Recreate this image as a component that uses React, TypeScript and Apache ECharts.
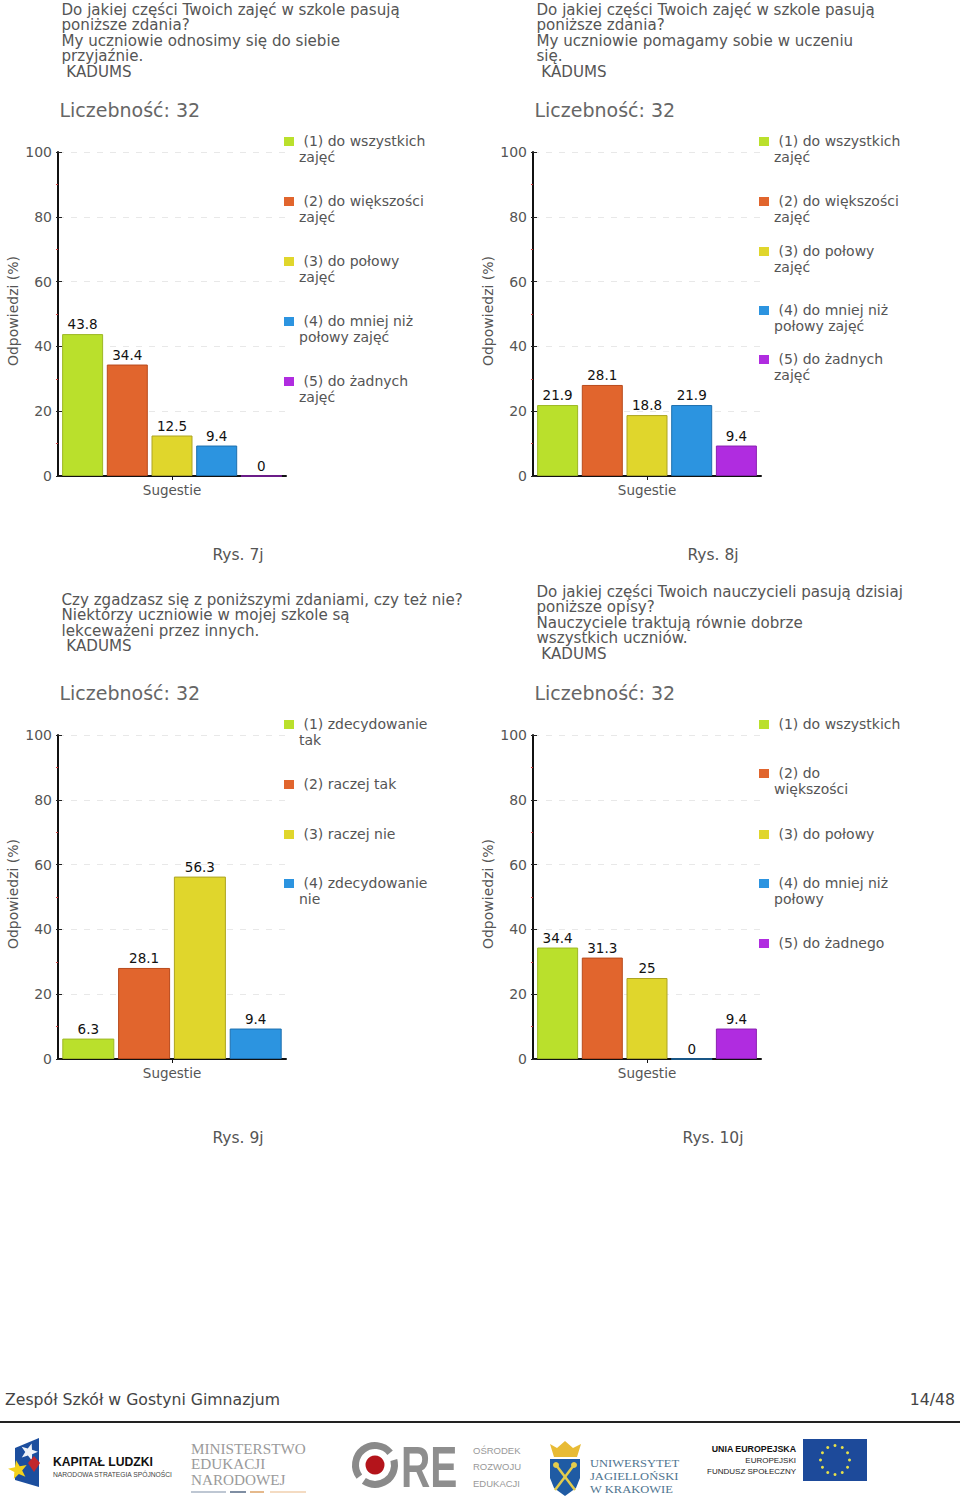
import React, { useEffect, useRef } from "react";
import * as echarts from "echarts";

const FONT = "'DejaVu Sans', Verdana, sans-serif";
const SERIF = "'Liberation Serif', serif";
const ARIAL = "'Liberation Sans', Arial, sans-serif";

const COLORS = ["#bae02c", "#e1652d", "#e0d62c", "#2c94e0", "#b02ce0"];
const BORDERS = ["#9db825", "#b84a1c", "#ada422", "#1d6fae", "#8a20b0"];

const question1 = "Do jakiej części Twoich zajęć w szkole pasują\nponiższe zdania?\nMy uczniowie odnosimy się do siebie\nprzyjaźnie.\n KADUMS";
const question2 = "Do jakiej części Twoich zajęć w szkole pasują\nponiższe zdania?\nMy uczniowie pomagamy sobie w uczeniu\nsię.\n KADUMS";
const question3 = "Czy zgadzasz się z poniższymi zdaniami, czy też nie?\nNiektórzy uczniowie w mojej szkole są\nlekceważeni przez innych.\n KADUMS";
const question4 = "Do jakiej części Twoich nauczycieli pasują dzisiaj\nponiższe opisy?\nNauczyciele traktują równie dobrze\nwszystkich uczniów.\n KADUMS";

const values1 = [43.8, 34.4, 12.5, 9.4, 0];
const values2 = [21.9, 28.1, 18.8, 21.9, 9.4];
const values3 = [6.3, 28.1, 56.3, 9.4];
const values4 = [34.4, 31.3, 25, 0, 9.4];

const legend1 = [" (1) do wszystkich\nzajęć", " (2) do większości\nzajęć", " (3) do połowy\nzajęć", " (4) do mniej niż\npołowy zajęć", " (5) do żadnych\nzajęć"];
const legend2 = legend1;
const legend3 = [" (1) zdecydowanie\ntak", " (2) raczej tak", " (3) raczej nie", " (4) zdecydowanie\nnie"];
const legend4 = [" (1) do wszystkich", " (2) do\nwiększości", " (3) do połowy", " (4) do mniej niż\npołowy", " (5) do żadnego"];

const captions = ["Rys. 7j", "Rys. 8j", "Rys. 9j", "Rys. 10j"];
const count = "Liczebność: 32";
const xCategory = "Sugestie";
const yName = "Odpowiedzi (%)";
const footerLeft = "Zespół Szkół w Gostyni Gimnazjum";
const footerRight = "14/48";

const panels = [
  { q: question1, qy: 2, v: values1, l: legend1, ly: [141, 201, 261, 321, 381], x: 58, y: 152, w: 41, gap: "9%" },
  { q: question2, qy: 2, v: values2, l: legend2, ly: [141, 201, 251, 310, 359], x: 533, y: 152, w: 41, gap: "9%" },
  { q: question3, qy: 592, v: values3, l: legend3, ly: [724, 784, 834, 883], x: 58, y: 735, w: 52, gap: "7.3%" },
  { q: question4, qy: 584, v: values4, l: legend4, ly: [724, 773, 834, 883, 943], x: 533, y: 735, w: 41, gap: "9%" },
];

function txt(x: number, y: number, text: string, fontSize: number, fill = "#555", extra: any = {}, scaleX = 1) {
  return {
    type: "text", x, y, scaleX,
    style: { text, fontSize, fill, fontFamily: FONT, textVerticalAlign: "middle", verticalAlign: "middle", align: "left", ...extra },
  };
}

function star(cx: number, cy: number, R: number, fill: string, rot = 0) {
  const pts: number[][] = [];
  for (let i = 0; i < 10; i++) {
    const r = i % 2 ? R * 0.42 : R;
    const a = -Math.PI / 2 + rot + (i * Math.PI) / 5;
    pts.push([cx + r * Math.cos(a), cy + r * Math.sin(a)]);
  }
  return { type: "polygon", shape: { points: pts }, style: { fill } };
}

function logos(): any[] {
  const g: any[] = [];
  // Kapitał Ludzki
  g.push({ type: "polygon", shape: { points: [[15, 1448], [39, 1438], [39, 1487], [15, 1480]] }, style: { fill: "#1c4e9e" } });
  g.push(star(29, 1452, 9, "#eef2f8", 0.3));
  g.push({ type: "polygon", shape: { points: [[34, 1456], [40, 1463], [34, 1472], [28, 1463]] }, style: { fill: "#c2272d" } });
  g.push(star(18, 1470, 10, "#f3d21c", -0.2));
  g.push(txt(53, 1462, "KAPITAŁ LUDZKI", 12.2, "#111", { fontFamily: ARIAL, fontWeight: "bold" }));
  g.push(txt(53, 1474, "NARODOWA STRATEGIA SPÓJNOŚCI", 6.7, "#444", { fontFamily: ARIAL }));
  // MEN
  g.push(txt(191, 1448, "MINISTERSTWO", 15.2, "#9a9a9a", { fontFamily: SERIF }));
  g.push(txt(191, 1463, "EDUKACJI", 15.2, "#9a9a9a", { fontFamily: SERIF }));
  g.push(txt(191, 1479, "NARODOWEJ", 15.2, "#9a9a9a", { fontFamily: SERIF }));
  g.push({ type: "line", shape: { x1: 191, y1: 1492, x2: 226, y2: 1492 }, style: { stroke: "#a9b4c4", lineWidth: 1.5 } });
  g.push({ type: "line", shape: { x1: 230, y1: 1492, x2: 246, y2: 1492 }, style: { stroke: "#7f8ea3", lineWidth: 2 } });
  g.push({ type: "line", shape: { x1: 250, y1: 1492, x2: 264, y2: 1492 }, style: { stroke: "#e5b98c", lineWidth: 2 } });
  g.push({ type: "line", shape: { x1: 270, y1: 1492, x2: 306, y2: 1492 }, style: { stroke: "#f0cfae", lineWidth: 1.5 } });
  // ORE
  g.push({ type: "arc", shape: { cx: 375, cy: 1465, r: 19.5, startAngle: 2.5, endAngle: 5.6 }, style: { stroke: "#8a8a8a", lineWidth: 7, fill: "none" } });
  g.push({ type: "arc", shape: { cx: 375, cy: 1465, r: 19.5, startAngle: -0.26, endAngle: 2.18 }, style: { stroke: "#8a8a8a", lineWidth: 7, fill: "none" } });
  g.push({ type: "circle", shape: { cx: 375, cy: 1465, r: 9.5 }, style: { fill: "#b4141b" } });
  g.push(txt(401, 1467, "RE", 58, "#8e8e8e", { fontFamily: ARIAL, fontWeight: "bold" }, 0.7));
  g.push(txt(473, 1450, "OŚRODEK", 9.5, "#999", { fontFamily: ARIAL }));
  g.push(txt(473, 1466, "ROZWOJU", 9.5, "#999", { fontFamily: ARIAL }));
  g.push(txt(473, 1483, "EDUKACJI", 9.5, "#999", { fontFamily: ARIAL }));
  // UJ
  g.push({ type: "polygon", shape: { points: [[550, 1444], [557, 1448], [565, 1441], [573, 1448], [581, 1444], [577, 1457], [554, 1457]] }, style: { fill: "#e8bb35" } });
  g.push({ type: "polygon", shape: { points: [[550, 1459], [580, 1459], [580, 1478], [576, 1488], [565, 1496], [554, 1488], [550, 1478]] }, style: { fill: "#1f5ba4" } });
  g.push({ type: "line", shape: { x1: 556, y1: 1465, x2: 575, y2: 1490 }, style: { stroke: "#e3cc4c", lineWidth: 2.5 } });
  g.push({ type: "line", shape: { x1: 574, y1: 1465, x2: 555, y2: 1490 }, style: { stroke: "#e3cc4c", lineWidth: 2.5 } });
  g.push({ type: "circle", shape: { cx: 556, cy: 1465, r: 3 }, style: { fill: "#e3cc4c" } });
  g.push({ type: "circle", shape: { cx: 574, cy: 1465, r: 3 }, style: { fill: "#e3cc4c" } });
  g.push(txt(590, 1463, "UNIWERSYTET", 11, "#4f7590", { fontFamily: SERIF }, 1.14));
  g.push(txt(590, 1476, "JAGIELLOŃSKI", 11, "#4f7590", { fontFamily: SERIF }, 1.14));
  g.push(txt(590, 1489, "W KRAKOWIE", 11, "#4f7590", { fontFamily: SERIF }, 1.14));
  // EU
  g.push(txt(796, 1449, "UNIA EUROPEJSKA", 8.8, "#111", { fontFamily: ARIAL, fontWeight: "bold", align: "right" }));
  g.push(txt(796, 1460, "EUROPEJSKI", 8, "#222", { fontFamily: ARIAL, align: "right" }));
  g.push(txt(796, 1471, "FUNDUSZ SPOŁECZNY", 8, "#222", { fontFamily: ARIAL, align: "right" }));
  g.push({ type: "rect", shape: { x: 803, y: 1439, width: 64, height: 42 }, style: { fill: "#1d4a9a" } });
  for (let i = 0; i < 12; i++) {
    const a = (i * Math.PI) / 6;
    g.push({ type: "circle", shape: { cx: 835 + 14.5 * Math.cos(a), cy: 1460 + 14.5 * Math.sin(a), r: 1.5 }, style: { fill: "#e6e04a" } });
  }
  return g;
}

function buildOption() {
  const grid: any[] = [], xAxis: any[] = [], yAxis: any[] = [], series: any[] = [], graphic: any[] = [];
  panels.forEach((p, i) => {
    const bottom = p.y + 324;
    grid.push({ left: p.x, top: p.y, width: 228, height: 324, containLabel: false });
    xAxis.push({
      type: "category", gridIndex: i, data: [xCategory],
      axisLine: { show: true, lineStyle: { color: "#111", width: 2 } },
      axisTick: { show: true, alignWithLabel: true, length: 4, lineStyle: { color: "#111" } },
      axisLabel: { color: "#555", fontSize: 13.5, fontFamily: FONT, margin: 7 },
      splitLine: { show: false },
    });
    yAxis.push({
      type: "value", gridIndex: i, min: 0, max: 100, interval: 20,
      name: yName, nameLocation: "middle", nameGap: 38,
      nameTextStyle: { color: "#555", fontSize: 14, fontFamily: FONT, padding: [0, 0, 0, 6] },
      axisLine: { show: true, lineStyle: { color: "#111", width: 2 } },
      axisTick: { show: true, length: 2, lineStyle: { color: "#222" } },
      minorTick: { show: true, splitNumber: 2, length: 2, lineStyle: { color: "#c44" } },
      axisLabel: { color: "#555", fontSize: 14, fontFamily: FONT, margin: 6 },
      splitLine: { show: true, lineStyle: { color: "#e8e8e8", type: [6, 7], width: 1 } },
    });
    p.v.forEach((val, k) => {
      series.push({
        type: "bar", name: p.l[k].trim().replace("\n", " "), xAxisIndex: i, yAxisIndex: i,
        data: [val], barWidth: p.w, barGap: p.gap,
        itemStyle: { color: COLORS[k], borderColor: BORDERS[k], borderWidth: 1 },
        label: { show: true, position: "top", distance: 3, color: "#111", fontSize: 13.5, fontFamily: FONT },
      });
    });
    const q: any = txt(p.x + 3.5, p.qy, p.q, 15.1, "#555", { verticalAlign: "top", textVerticalAlign: "top", lineHeight: 15.5 });
    graphic.push(q);
    graphic.push(txt(p.x + 1.5, p.y - 42, count, 19, "#666"));
    p.l.forEach((label, k) => {
      graphic.push({ type: "rect", shape: { x: p.x + 226, y: p.ly[k] - 4, width: 10, height: 9 }, style: { fill: COLORS[k] } });
      graphic.push(txt(p.x + 241, p.ly[k] - 8, label, 14, "#555", { verticalAlign: "top", textVerticalAlign: "top", lineHeight: 16 }));
    });
    graphic.push(txt(p.x + 180, bottom + 79, captions[i], 15.5, "#555", { align: "center" }));
  });
  // second, label-less value axes: the part of each major tick on the inner side of the axis line
  panels.forEach((p, i) => {
    yAxis.push({
      type: "value", gridIndex: i, min: 0, max: 100, interval: 20, position: "left",
      axisLine: { show: false }, axisLabel: { show: false }, splitLine: { show: false },
      axisTick: { show: true, inside: true, length: 4, lineStyle: { color: "#222" } },
    });
  });
  graphic.push(txt(5, 1399, footerLeft, 15.7, "#444"));
  graphic.push(txt(955, 1399, footerRight, 15.7, "#444", { align: "right" }));
  graphic.push({ type: "line", shape: { x1: 0, y1: 1422, x2: 960, y2: 1422 }, style: { stroke: "#222", lineWidth: 2 } });
  graphic.push(...logos());
  return { animation: false, backgroundColor: "#fff", grid, xAxis, yAxis, series, graphic };
}

export default function App() {
  const ref = useRef<HTMLDivElement>(null);
  useEffect(() => {
    const chart = echarts.init(ref.current!, undefined, { renderer: "svg" });
    chart.setOption(buildOption() as any);
    return () => chart.dispose();
  }, []);
  return <div ref={ref} style={{ position: "absolute", left: 0, top: 0, width: 960, height: 1510 }} />;
}
